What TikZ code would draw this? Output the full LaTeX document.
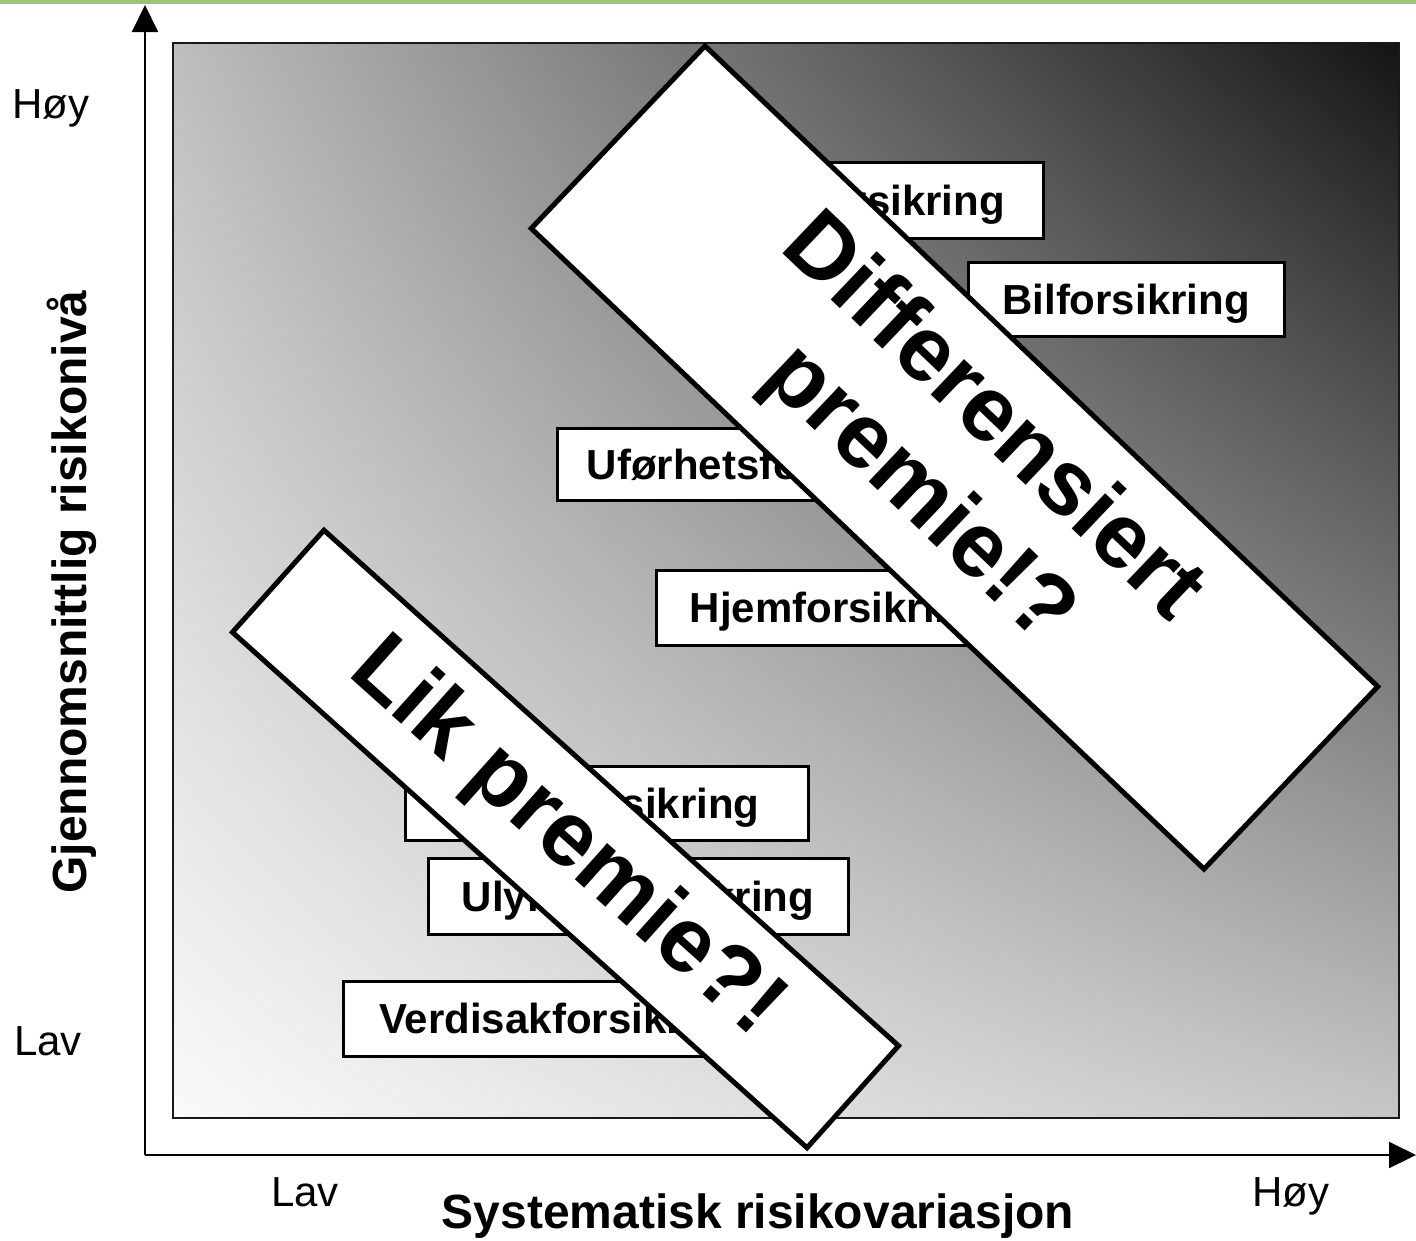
\documentclass[tikz,border=0pt]{standalone}
\usepackage{fontspec}
\setmainfont{Liberation Sans}
\usetikzlibrary{arrows.meta,shadings}
\definecolor{gTL}{RGB}{190,190,190}
\definecolor{gTR}{RGB}{20,20,20}
\definecolor{gBL}{RGB}{250,250,250}
\definecolor{gBR}{RGB}{198,198,198}
\definecolor{topgreen}{RGB}{158,193,125}
\begin{document}
\begin{tikzpicture}[x=1pt,y=-1pt,
  ibox/.style={draw=black, line width=3pt, fill=white, inner sep=0pt, text depth=0pt,
    font=\fontsize{42}{50}\selectfont\bfseries},
  banner/.style={draw=black, line width=5pt, fill=white, inner sep=0pt, align=center,
    font=\fontsize{92}{106}\selectfont\bfseries},
  lbl/.style={font=\fontsize{42}{50}\selectfont, inner sep=0pt, anchor=base},
  axtitle/.style={font=\fontsize{48}{56}\selectfont\bfseries, inner sep=0pt, anchor=base},
  axis/.style={line width=2pt, -{Triangle[width=26pt,length=27pt]}}]
\useasboundingbox (0,0) rectangle (1416,1240);
\fill[topgreen] (0,0) rectangle (1416,4);

% axes
\coordinate (O) at (145,1155);
\coordinate (ytip) at (145,5);
\coordinate (xtip) at (1416,1155);
\draw[axis] (O) -- (ytip);
\draw[axis] (O) -- (xtip);

% gradient panel
\shade[shading=bilinear interpolation, upper left=gTL, upper right=gTR, lower left=gBL, lower right=gBR]
  (173,43) rectangle (1399,1118);
\draw[line width=2.5pt, black!90] (173,43) rectangle (1399,1118);

% axis labels
\node[lbl] (hoyY) at (51,118) {Høy};
\node[lbl] (lavY) at (48,1055) {Lav};
\node[lbl] (lavX) at (305,1206) {Lav};
\node[lbl] (hoyX) at (1291,1206) {Høy};
\node[axtitle] (xtitle) at (758,1228) {Systematisk risikovariasjon};
\node[axtitle, rotate=90] (ytitle) at (86,592) {Gjennomsnittlig risikonivå};

% boxes
\node[ibox, minimum width=354pt, minimum height=76pt] (liv) at (866,200) {Livsforsikring};
\node[ibox, minimum width=316pt, minimum height=74pt] (bil) at (1126,299) {Bilforsikring};
\node[ibox, minimum width=426pt, minimum height=72pt] (ufor) at (770,464) {Uførhetsforsikring};
\node[ibox, minimum width=364pt, minimum height=75pt] (hjem) at (838,607.5) {Hjemforsikring};
\node[ibox, minimum width=403pt, minimum height=74pt] (helse) at (606.5,803) {Helseforsikring};
\node[ibox, minimum width=420pt, minimum height=76pt] (ulykke) at (638,896) {Ulykkesforsikring};
\node[ibox, minimum width=439pt, minimum height=75pt] (verdi) at (562.5,1018.5) {Verdisakforsikring};

% banners
\node[banner, rotate=-43.6, minimum width=929pt, minimum height=252pt] (diff) at (954.5,457.5)
  {Differensiert\\premie!?};
\node[banner, rotate=-41.9, minimum width=772pt, minimum height=137pt] (lik) at (565.5,839)
  {Lik premie?!};
\end{tikzpicture}
\end{document}
